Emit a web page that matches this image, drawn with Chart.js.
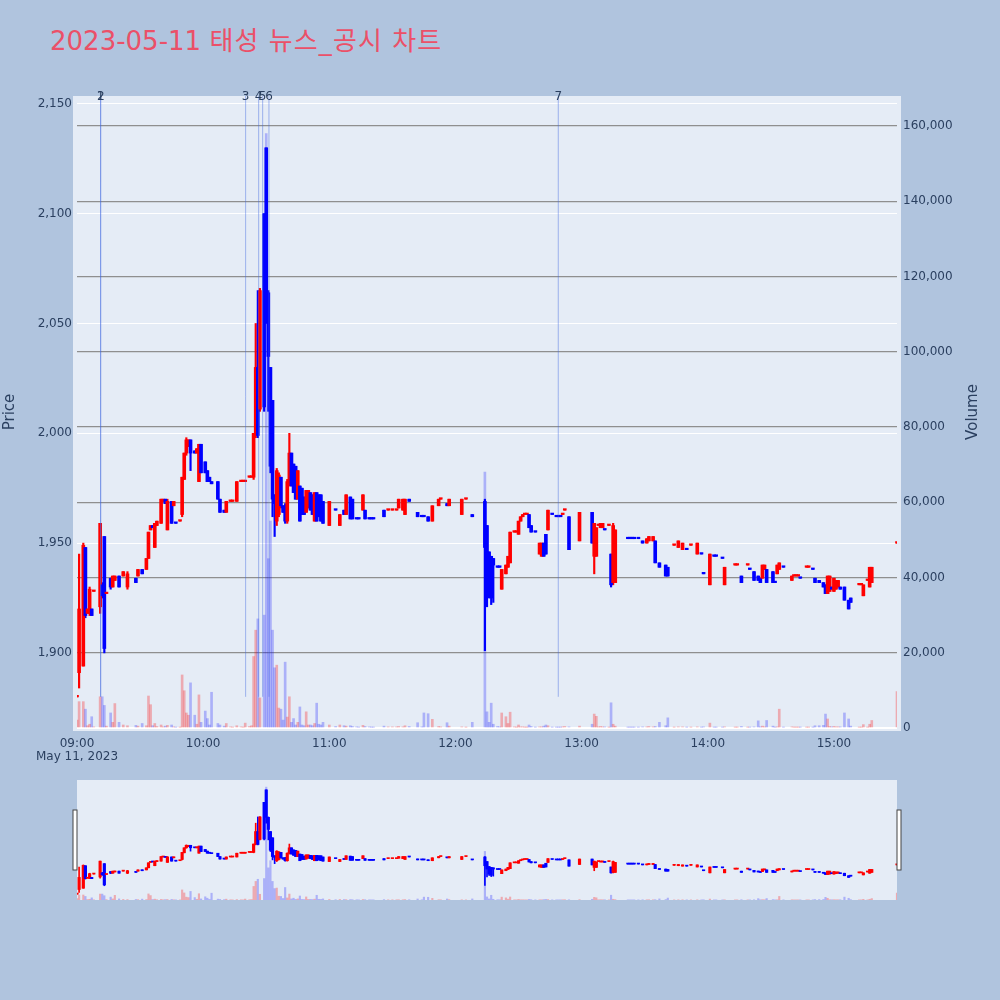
<!DOCTYPE html>
<html><head><meta charset="utf-8">
<script src="https://cdn.jsdelivr.net/npm/chart.js@4.4.1/dist/chart.umd.min.js"></script>
<style>
html,body{margin:0;padding:0;background:#b0c4de;width:1000px;height:1000px;overflow:hidden;}
#title{position:absolute;left:50px;top:26px;font-size:26px;line-height:30px;font-family:"DejaVu Sans","Noto Sans CJK KR",sans-serif;color:#eb5068;white-space:nowrap;}
#title .ko{letter-spacing:1.1px;}
#main{position:absolute;left:0;top:0;}
#mini{position:absolute;left:0;top:770px;}
</style></head><body>
<div id="title">2023-05-11 <span class="ko">태성 뉴스_공시 차트</span></div>
<canvas id="main" width="1000" height="780"></canvas>
<canvas id="mini" width="1000" height="140"></canvas>
<script>
// minutes after 09:00
const minutes = [0,1,3,4,5,6,7,8,11,12,
13,14,16,17,18,20,22,24,28,29,
31,33,34,35,36,37,38,40,41,42,
43,45,46,47,49,50,51,52,53,54,
56,57,58,59,61,62,63,64,67,68,
70,71,73,74,76,78,79,80,82,83,
84,85,86,87,89,90,91,92,93,94,
95,96,97,98,99,100,101,102,103,104,
105,106,107,108,109,110,111,112,113,114,
115,116,117,120,123,125,127,128,130,131,
133,134,136,137,139,140,141,146,148,150,
152,153,155,156,158,162,164,165,167,169,
172,173,176,177,183,185,188,194,195,196,
197,198,200,201,202,204,205,206,208,209,
210,211,212,213,214,215,216,218,220,221,
222,223,224,226,228,229,230,231,232,234,
239,245,246,247,248,249,250,251,253,254,
255,256,262,263,264,265,267,269,271,272,
274,275,277,280,281,284,286,288,290,292,
295,297,298,301,303,304,307,308,313,314,
316,319,320,322,324,325,326,327,328,331,
332,333,334,336,340,341,342,343,344,347,
348,350,351,353,355,356,357,358,359,360,
361,362,363,365,367,368,372,373,374,376,
377,378,390];
const opens = [1880,1891,1894,1948,1918,1918,1920,1928,1921,1931,
1953,1927,1934,1930,1933,1935,1935,1930,1934,1935,
1938,1938,1943,1956,1958,1948,1958,1959,1969,1970,
1956,1969,1967,1959,1960,1963,1979,1991,1994,1997,
1992,1991,1978,1995,1987,1983,1980,1978,1978,1970,
1965,1964,1969,1969,1969,1978,1978,1978,1980,1980,
1980,2000,2030,2011,2100,2130,2064,2030,2015,1972,
1960,1963,1980,1967,1967,1960,1978,1991,1986,1985,
1970,1976,1975,1971,1964,1966,1973,1972,1960,1973,
1972,1972,1969,1958,1965,1958,1965,1963,1971,1970,
1961,1961,1965,1965,1961,1961,1961,1965,1965,1965,
1965,1966,1965,1963,1970,1964,1962,1962,1962,1960,
1967,1970,1968,1967,1963,1970,1963,1969,1958,1946,
1944,1943,1939,1939,1929,1936,1939,1941,1955,1955,
1954,1960,1962,1963,1963,1963,1958,1955,1945,1944,
1950,1954,1956,1963,1962,1962,1962,1963,1965,1962,
1951,1964,1944,1944,1958,1957,1957,1956,1958,1945,
1932,1932,1952,1952,1952,1952,1952,1951,1950,1951,
1951,1951,1941,1940,1939,1949,1948,1947,1947,1949,
1945,1945,1936,1931,1944,1944,1943,1931,1940,1940,
1935,1940,1938,1937,1935,1934,1934,1938,1938,1937,
1932,1936,1938,1939,1933,1935,1935,1935,1934,1939,
1939,1938,1934,1933,1932,1931,1927,1928,1930,1928,
1929,1930,1930,1930,1924,1925,1931,1931,1926,1933,
1930,1932,1950];
const highs = [1880,1945,1950,1948,1920,1930,1920,1928,1959,1932,
1953,1927,1934,1935,1935,1935,1937,1937,1934,1938,
1938,1943,1955,1958,1958,1959,1960,1970,1970,1970,
1970,1969,1969,1959,1960,1980,1991,1998,1997,1997,
1992,1993,1995,1995,1987,1983,1980,1978,1978,1970,
1965,1969,1969,1969,1978,1978,1978,1978,1980,1980,
2000,2050,2065,2066,2100,2130,2065,2030,2015,1972,
1984,1982,1980,1967,1968,1979,2000,1991,1986,1985,
1983,1976,1975,1971,1974,1974,1973,1972,1973,1973,
1972,1972,1969,1969,1965,1963,1965,1972,1971,1970,
1961,1961,1972,1965,1961,1961,1961,1965,1965,1965,
1965,1970,1970,1970,1970,1964,1962,1962,1962,1967,
1970,1970,1968,1970,1970,1970,1963,1970,1958,1946,
1944,1943,1939,1939,1938,1940,1944,1955,1955,1955,
1960,1962,1963,1963,1963,1963,1958,1955,1950,1950,
1950,1954,1965,1963,1962,1962,1962,1963,1965,1962,
1964,1964,1959,1957,1958,1959,1959,1956,1958,1945,
1959,1956,1952,1952,1952,1952,1952,1951,1952,1953,
1953,1951,1941,1940,1939,1949,1951,1950,1947,1949,
1950,1945,1936,1945,1944,1944,1943,1939,1940,1940,
1935,1940,1938,1937,1935,1934,1940,1940,1938,1937,
1932,1940,1941,1939,1935,1935,1935,1935,1934,1939,
1939,1938,1934,1933,1932,1931,1935,1935,1930,1934,
1933,1933,1930,1930,1924,1925,1931,1931,1931,1933,
1939,1939,1950];
const lows = [1880,1884,1894,1916,1918,1917,1917,1928,1918,1925,
1900,1927,1929,1930,1933,1930,1935,1929,1932,1935,
1936,1938,1943,1956,1957,1948,1958,1959,1969,1968,
1956,1959,1967,1959,1960,1962,1979,1990,1994,1983,
1991,1991,1978,1982,1982,1978,1978,1977,1970,1964,
1964,1964,1969,1969,1969,1978,1978,1978,1980,1980,
1979,1998,1998,2010,2010,2050,2010,1982,1962,1953,
1958,1962,1966,1964,1959,1959,1976,1976,1973,1970,
1970,1960,1963,1963,1964,1966,1965,1963,1960,1960,
1962,1960,1959,1958,1965,1958,1963,1963,1961,1961,
1961,1961,1965,1961,1961,1961,1961,1962,1965,1965,
1965,1966,1965,1963,1969,1962,1962,1962,1960,1960,
1967,1970,1967,1967,1963,1970,1962,1901,1921,1925,
1922,1923,1939,1939,1929,1936,1939,1941,1955,1955,
1954,1960,1962,1963,1963,1957,1955,1955,1945,1944,
1944,1945,1956,1963,1962,1962,1962,1963,1965,1947,
1951,1950,1936,1944,1958,1957,1957,1956,1958,1930,
1931,1932,1952,1952,1952,1952,1952,1950,1950,1951,
1951,1941,1939,1935,1935,1949,1948,1947,1947,1949,
1945,1945,1936,1931,1944,1944,1943,1931,1940,1940,
1932,1940,1938,1933,1933,1932,1934,1938,1932,1932,
1932,1936,1938,1939,1933,1935,1935,1935,1934,1939,
1939,1938,1932,1932,1930,1927,1927,1928,1929,1928,
1929,1930,1929,1924,1920,1923,1931,1931,1926,1933,
1930,1932,1950];
const closes = [1880,1920,1949,1917,1920,1929,1917,1928,1959,1926,
1902,1927,1930,1935,1935,1930,1937,1936,1932,1938,
1936,1943,1955,1958,1957,1959,1960,1970,1970,1968,
1969,1959,1969,1959,1960,1980,1991,1997,1997,1991,
1991,1993,1995,1982,1982,1978,1978,1977,1970,1964,
1964,1969,1969,1969,1978,1978,1978,1978,1980,1980,
2000,2030,1999,2065,2012,2064,2035,1985,1970,1968,
1983,1981,1967,1964,1960,1978,1991,1976,1973,1970,
1983,1960,1963,1963,1974,1974,1965,1963,1973,1960,
1962,1960,1959,1969,1965,1963,1963,1972,1961,1961,
1961,1961,1972,1961,1961,1961,1961,1962,1965,1965,
1965,1970,1970,1970,1969,1962,1962,1962,1960,1967,
1970,1970,1967,1970,1970,1970,1962,1948,1940,1928,
1925,1940,1939,1939,1938,1940,1944,1955,1955,1955,
1960,1962,1963,1963,1963,1957,1955,1955,1950,1950,
1944,1945,1965,1963,1962,1962,1962,1963,1965,1947,
1964,1950,1959,1957,1958,1959,1959,1956,1958,1931,
1958,1956,1952,1952,1952,1952,1952,1950,1952,1953,
1953,1941,1939,1935,1935,1949,1951,1950,1947,1949,
1950,1945,1936,1945,1944,1944,1943,1939,1940,1940,
1932,1940,1938,1933,1933,1932,1940,1940,1932,1932,
1932,1940,1941,1939,1935,1935,1935,1935,1934,1939,
1939,1938,1932,1932,1930,1927,1935,1935,1929,1934,
1933,1933,1929,1924,1920,1923,1931,1931,1931,1933,
1939,1939,1950];
const volumes = [2100,7000,7000,5000,600,1000,3000,300,8300,8300,
6000,500,4000,1500,6500,1500,800,600,700,500,
1200,600,8500,6200,600,1200,400,800,300,500,
700,800,300,200,200,14100,9900,4000,3400,12000,
3400,1000,8800,1500,4500,2500,800,9500,1200,800,
500,1200,300,200,600,300,200,1300,400,600,
19000,26000,29000,8000,30000,158000,45000,55000,26000,16000,
16700,5300,5000,2100,17500,2900,8300,1500,2500,800,
1500,5600,800,600,4300,800,800,600,1200,6600,
1000,800,1500,800,400,800,600,500,600,400,
300,200,700,400,300,200,200,500,300,300,
300,400,300,600,400,1400,300,4000,3800,2300,
400,300,1400,500,300,200,1500,68000,4300,1500,
6600,1000,400,300,4000,3000,1200,4200,300,200,
800,300,300,200,200,800,400,200,300,300,
500,800,600,200,200,200,200,300,400,300,
500,1000,3700,3100,300,400,300,300,200,6700,
1000,500,200,200,200,200,200,300,300,400,
300,400,1500,600,2700,200,300,300,200,200,
300,200,300,1300,200,200,200,300,200,200,
400,200,200,300,1900,300,500,300,2000,500,
200,300,5000,200,300,200,200,200,200,200,
200,200,600,600,700,3700,2400,400,300,400,
300,300,300,4000,2400,500,200,200,900,200,
1000,2000,9700];

// news / disclosure markers (minutes after 09:00)
const newsMinutes = [11.2, 11.3, 80.2, 86.4, 88.3, 91.3, 228.9];
const newsLabels = ['1','2','3','4','5','6','7'];
const newsLineLow = 1880;

const tickMinutes = [0, 60, 120, 180, 240, 300, 360];
const tickLabels = ['09:00','10:00','11:00','12:00','13:00','14:00','15:00'];
const dateLabel = 'May 11, 2023';
const priceTicks = [1900, 1950, 2000, 2050, 2100, 2150];
const volumeTicks = [0, 20000, 40000, 60000, 80000, 100000, 120000, 140000, 160000];
const priceRange = [1865.8, 2153.6];
const volumeRange = [0, 167970];
const timeRange = [0, 390];

const UP = '#ff0000', DOWN = '#0000ff';
const UP_V = 'rgba(255,0,0,0.28)', DOWN_V = 'rgba(0,0,255,0.25)';
const FONT = '"DejaVu Sans", sans-serif';
const TXT = '#2a3f5f';

// candle direction (flat candles compare with previous close)
const isUp = [];
for (let i = 0; i < closes.length; i++) {
  let up;
  if (closes[i] > opens[i]) up = true;
  else if (closes[i] < opens[i]) up = false;
  else if (i === 0) up = true;
  else if (closes[i] > closes[i-1]) up = true;
  else if (closes[i] < closes[i-1]) up = false;
  else up = isUp[i-1];
  isUp.push(up);
}
const candleColors = isUp.map(u => u ? UP : DOWN);
const volColors = isUp.map(u => u ? UP_V : DOWN_V);

function makeDatasets(bodyW, wickW, volW, minLen) {
  return [
    { type: 'bar', label: 'vol', yAxisID: 'yv', order: 5, grouped: false,
      data: minutes.map((m, i) => ({ x: m, y: volumes[i] })),
      backgroundColor: volColors, barThickness: volW },
    { type: 'bar', label: 'wick', yAxisID: 'y', order: 2, grouped: false,
      data: minutes.map((m, i) => ({ x: m, y: [lows[i], highs[i]] })),
      backgroundColor: candleColors, barThickness: wickW },
    { type: 'bar', label: 'body', yAxisID: 'y', order: 1, grouped: false, minBarLength: minLen,
      data: minutes.map((m, i) => ({ x: m, y: [Math.min(opens[i], closes[i]), Math.max(opens[i], closes[i])] })),
      backgroundColor: candleColors, barThickness: bodyW }
  ];
}

const newsDatasets = newsMinutes.map((m, i) => ({
  type: 'line', label: 'news' + newsLabels[i], yAxisID: 'y', order: 0,
  data: [{ x: m, y: newsLineLow }, { x: m, y: priceRange[1] }],
  borderColor: 'rgba(65,105,225,0.45)', borderWidth: 1, pointRadius: 0, fill: false
}));

const bgPlugin = {
  id: 'bgPlugin',
  beforeDraw(chart, args, opts) {
    const a = chart.chartArea, c = chart.ctx;
    c.save();
    c.fillStyle = '#e5ecf6';
    c.fillRect(a.left - opts.ext, a.top, a.right - a.left + 2 * opts.ext, a.bottom - a.top + opts.extB);
    c.restore();
  }
};

const newsLabelPlugin = {
  id: 'newsLabelPlugin',
  afterDraw(chart) {
    const c = chart.ctx, xs = chart.scales.x, a = chart.chartArea;
    c.save();
    c.font = '12px ' + FONT;
    c.fillStyle = TXT;
    c.textAlign = 'center';
    c.textBaseline = 'middle';
    newsMinutes.forEach((m, i) => c.fillText(newsLabels[i], xs.getPixelForValue(m), a.top + 0.5));
    // axis titles
    const mid = (a.top + a.bottom) / 2;
    c.font = '15px ' + FONT;
    c.save(); c.translate(10, mid); c.rotate(-Math.PI / 2); c.fillText('Price', 0, 0); c.restore();
    c.save(); c.translate(973, mid); c.rotate(-Math.PI / 2); c.fillText('Volume', 0, 0); c.restore();
    c.restore();
  }
};

const tickFont = { family: FONT, size: 12, lineHeight: 1.1 };

new Chart(document.getElementById('main'), {
  type: 'bar',
  data: { datasets: [...makeDatasets(3, 1.5, 2, 1.5), ...newsDatasets] },
  options: {
    responsive: false, animation: false, devicePixelRatio: 1, events: [],
    layout: { padding: { top: 96, left: 0, right: 0, bottom: 0 } },
    plugins: { legend: { display: false }, tooltip: { enabled: false }, bgPlugin: { ext: 4, extB: 3 } },
    scales: {
      x: {
        type: 'linear', position: 'bottom', min: timeRange[0], max: timeRange[1], offset: false,
        grid: { display: false, drawTicks: false, offset: false }, border: { display: false },
        afterBuildTicks: s => { s.ticks = tickMinutes.map(v => ({ value: v })); },
        afterFit: s => { s.height = 52; },
        ticks: {
          autoSkip: false, maxRotation: 0, minRotation: 0, padding: 9, color: TXT, font: tickFont,
          callback: v => { const i = tickMinutes.indexOf(v); return i === 0 ? [tickLabels[0], dateLabel] : tickLabels[i]; }
        }
      },
      y: {
        type: 'linear', position: 'left', min: priceRange[0], max: priceRange[1],
        grid: { color: '#ffffff', lineWidth: 1, drawTicks: false }, border: { display: false },
        afterBuildTicks: s => { s.ticks = priceTicks.map(v => ({ value: v })); },
        afterFit: s => { s.width = 77; },
        ticks: { padding: 5, color: TXT, font: tickFont, callback: v => v.toLocaleString('en-US') }
      },
      yv: {
        type: 'linear', position: 'right', min: volumeRange[0], max: volumeRange[1],
        grid: { color: ctx => (ctx.tick && ctx.tick.value === 0) ? '#ffffff' : '#8f8f8f',
                lineWidth: ctx => (ctx.tick && ctx.tick.value === 0) ? 2 : 1.3, drawTicks: false },
        border: { display: false },
        afterBuildTicks: s => { s.ticks = volumeTicks.map(v => ({ value: v })); },
        afterFit: s => { s.width = 103; },
        ticks: { padding: 6, color: TXT, font: tickFont, callback: v => v.toLocaleString('en-US') }
      }
    }
  },
  plugins: [bgPlugin, newsLabelPlugin]
});

const handlePlugin = {
  id: 'handlePlugin',
  afterDraw(chart) {
    const c = chart.ctx, a = chart.chartArea;
    const midY = (a.top + a.bottom) / 2;
    c.save();
    c.fillStyle = '#ffffff';
    c.strokeStyle = '#444444';
    c.lineWidth = 1;
    [a.left - 2, a.right + 2].forEach(cx => {
      c.fillRect(cx - 2, midY - 30, 4, 60);
      c.strokeRect(cx - 2, midY - 30, 4, 60);
    });
    c.restore();
  }
};

new Chart(document.getElementById('mini'), {
  type: 'bar',
  data: { datasets: makeDatasets(2.5, 1, 1.5, 1) },
  options: {
    responsive: false, animation: false, devicePixelRatio: 1, events: [],
    layout: { padding: { top: 10, bottom: 10, left: 77, right: 103 } },
    plugins: { legend: { display: false }, tooltip: { enabled: false }, bgPlugin: { ext: 0, extB: 0 } },
    scales: {
      x: { type: 'linear', display: false, min: timeRange[0], max: timeRange[1], offset: false },
      y: { type: 'linear', display: false, min: priceRange[0], max: priceRange[1] },
      yv: { type: 'linear', display: false, position: 'right', min: volumeRange[0], max: volumeRange[1] }
    }
  },
  plugins: [bgPlugin, handlePlugin]
});
</script>
</body></html>
